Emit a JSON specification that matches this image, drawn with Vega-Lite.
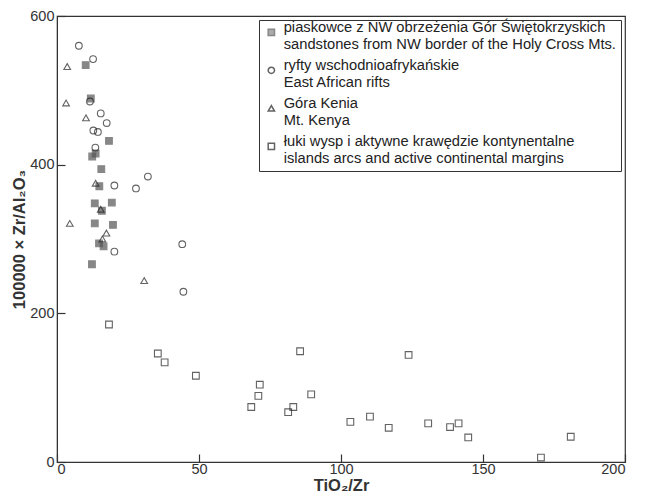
{
  "$schema": "https://vega.github.io/schema/vega-lite/v6.json",
  "width": 568,
  "height": 446,
  "autosize": {"type": "none"},
  "padding": {"left": 57, "top": 16, "right": 27, "bottom": 40},
  "background": "white",
  "config": {
    "font": "Liberation Sans",
    "view": {"stroke": "#333", "strokeWidth": 1.2},
    "axis": {"grid": false, "domainColor": "#333", "tickColor": "#333", "tickWidth": 1.2, "labelColor": "#333", "titleColor": "#333", "labelFontSize": 14.5, "titleFontSize": 16.5, "titleFontWeight": "bold"}
  },
  "data": {"values": [
    {"g": "A", "x": 10.1, "y": 534}, {"g": "A", "x": 11.9, "y": 489}, {"g": "A", "x": 18.3, "y": 432},
    {"g": "A", "x": 13.6, "y": 415}, {"g": "A", "x": 12.4, "y": 411}, {"g": "A", "x": 15.6, "y": 394},
    {"g": "A", "x": 14.9, "y": 371}, {"g": "A", "x": 13.3, "y": 348}, {"g": "A", "x": 19.3, "y": 349},
    {"g": "A", "x": 15.8, "y": 338}, {"g": "A", "x": 13.3, "y": 321}, {"g": "A", "x": 19.7, "y": 319},
    {"g": "A", "x": 14.8, "y": 294}, {"g": "A", "x": 16.4, "y": 290}, {"g": "A", "x": 12.3, "y": 266},
    {"g": "B", "x": 7.7, "y": 560}, {"g": "B", "x": 12.7, "y": 542}, {"g": "B", "x": 11.6, "y": 485},
    {"g": "B", "x": 15.4, "y": 469}, {"g": "B", "x": 17.5, "y": 456}, {"g": "B", "x": 12.8, "y": 446},
    {"g": "B", "x": 14.4, "y": 444}, {"g": "B", "x": 13.5, "y": 423}, {"g": "B", "x": 32.0, "y": 384},
    {"g": "B", "x": 20.2, "y": 372}, {"g": "B", "x": 27.8, "y": 368}, {"g": "B", "x": 44.1, "y": 293},
    {"g": "B", "x": 20.2, "y": 283}, {"g": "B", "x": 44.5, "y": 229},
    {"g": "C", "x": 3.6, "y": 532}, {"g": "C", "x": 3.2, "y": 483}, {"g": "C", "x": 10.2, "y": 463},
    {"g": "C", "x": 13.6, "y": 375}, {"g": "C", "x": 15.4, "y": 340}, {"g": "C", "x": 4.5, "y": 321},
    {"g": "C", "x": 17.4, "y": 308}, {"g": "C", "x": 16.0, "y": 300}, {"g": "C", "x": 30.7, "y": 244},
    {"g": "D", "x": 18.3, "y": 185}, {"g": "D", "x": 35.5, "y": 146}, {"g": "D", "x": 37.9, "y": 134},
    {"g": "D", "x": 48.9, "y": 116}, {"g": "D", "x": 68.4, "y": 74}, {"g": "D", "x": 70.9, "y": 89},
    {"g": "D", "x": 71.4, "y": 104}, {"g": "D", "x": 85.6, "y": 149}, {"g": "D", "x": 81.4, "y": 67},
    {"g": "D", "x": 83.2, "y": 74}, {"g": "D", "x": 89.5, "y": 91}, {"g": "D", "x": 103.3, "y": 54},
    {"g": "D", "x": 110.2, "y": 61}, {"g": "D", "x": 116.8, "y": 46}, {"g": "D", "x": 123.8, "y": 144},
    {"g": "D", "x": 130.7, "y": 52}, {"g": "D", "x": 138.4, "y": 47}, {"g": "D", "x": 141.4, "y": 52},
    {"g": "D", "x": 144.8, "y": 33}, {"g": "D", "x": 170.4, "y": 6}, {"g": "D", "x": 180.9, "y": 34}
  ]},
  "mark": {"type": "point", "filled": true, "strokeWidth": 1.1, "size": 45},
  "encoding": {
    "x": {"field": "x", "type": "quantitative", "scale": {"domain": [0, 200], "nice": false},
      "axis": {"values": [0, 50, 100, 150, 200], "tickSize": -8, "labelPadding": 8, "title": "TiO₂/Zr", "titlePadding": 2}},
    "y": {"field": "y", "type": "quantitative", "scale": {"domain": [0, 600], "nice": false},
      "axis": {"values": [0, 200, 400, 600], "tickSize": -8, "labelPadding": 11, "title": "100000 × Zr/Al₂O₃", "titlePadding": 2}},
    "shape": {"field": "g", "type": "nominal",
      "scale": {"domain": ["A", "B", "C", "D"], "range": ["square", "circle", "triangle-up", "square"]},
      "legend": {"orient": "top-right", "offset": 4, "title": null, "strokeColor": "#333", "padding": 5,
        "labelFontSize": 14.7, "labelColor": "#222", "labelLimit": 400, "labelBaseline": "alphabetic", "rowPadding": 6, "symbolSize": 40, "labelOffset": 5,
        "labelExpr": "datum.value == 'A' ? ['piaskowce z NW obrzeżenia Gór Świętokrzyskich', 'sandstones from NW border of the Holy Cross Mts.'] : datum.value == 'B' ? ['ryfty wschodnioafrykańskie', 'East African rifts'] : datum.value == 'C' ? ['Góra Kenia', 'Mt. Kenya'] : ['łuki wysp i aktywne krawędzie kontynentalne', 'islands arcs and active continental margins']"}},
    "fill": {"field": "g", "type": "nominal", "scale": {"domain": ["A", "B", "C", "D"], "range": ["#555555", "transparent", "transparent", "transparent"]}},
    "stroke": {"field": "g", "type": "nominal", "scale": {"domain": ["A", "B", "C", "D"], "range": ["#555555", "#222222", "#222222", "#222222"]}}
  }
}
